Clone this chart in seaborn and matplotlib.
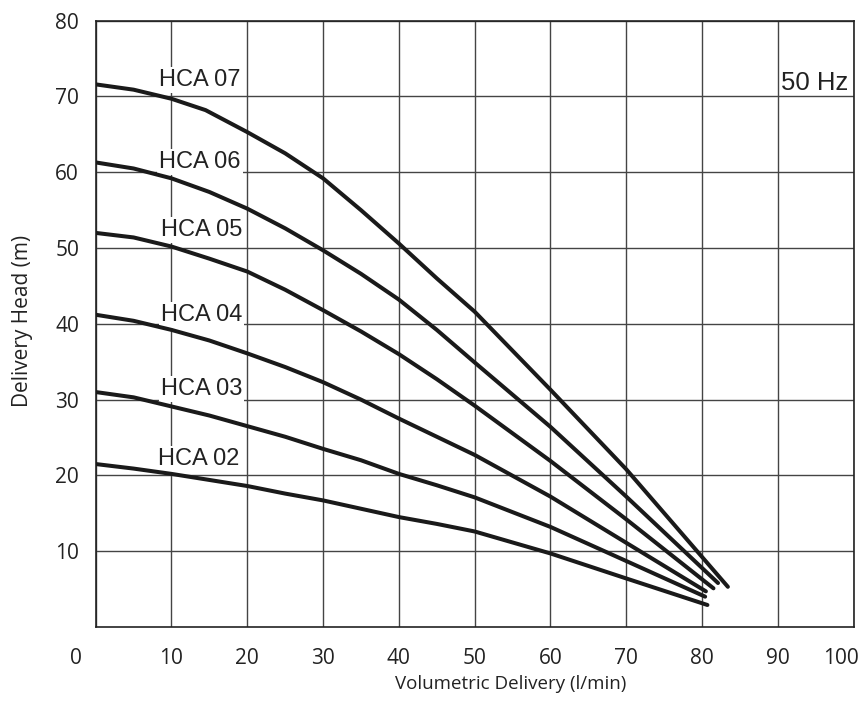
import matplotlib
matplotlib.use("Agg")
import matplotlib.pyplot as plt
import matplotlib.transforms as mtransforms
import pandas as pd
import seaborn as sns

# pump curves (flow l/min, head m)
hca07_q = [0, 5, 10, 14.5, 20, 25, 30, 35, 40, 45, 50, 60, 70, 83.4]
hca07_h = [71.6, 70.9, 69.7, 68.2, 65.3, 62.5, 59.2, 55.0, 50.6, 46.0, 41.6, 31.3, 20.8, 5.3]
hca06_q = [0, 5, 10, 15, 20, 25, 30, 35, 40, 45, 50, 60, 70, 82.1]
hca06_h = [61.3, 60.5, 59.2, 57.4, 55.2, 52.6, 49.7, 46.6, 43.2, 39.2, 34.9, 26.4, 17.2, 5.8]
hca05_q = [0, 5, 10, 15, 20, 25, 30, 35, 40, 45, 50, 60, 70, 81.5]
hca05_h = [52.0, 51.4, 50.2, 48.6, 46.9, 44.5, 41.8, 39.0, 36.0, 32.7, 29.2, 21.9, 14.2, 5.1]
hca04_q = [0, 5, 10, 15, 20, 25, 30, 35, 40, 45, 50, 60, 70, 80.5]
hca04_h = [41.2, 40.4, 39.2, 37.8, 36.1, 34.3, 32.3, 30.0, 27.5, 25.1, 22.7, 17.2, 11.1, 4.7]
hca03_q = [0, 5, 10, 15, 20, 25, 30, 35, 40, 45, 50, 60, 70, 80.4]
hca03_h = [31.0, 30.3, 29.1, 27.9, 26.5, 25.1, 23.5, 22.0, 20.2, 18.7, 17.1, 13.2, 8.7, 4.0]
hca02_q = [0, 5, 10, 15, 20, 25, 30, 35, 40, 45, 50, 60, 70, 80.7]
hca02_h = [21.5, 20.9, 20.2, 19.4, 18.6, 17.6, 16.7, 15.6, 14.5, 13.6, 12.6, 9.7, 6.4, 2.9]

models = ["HCA 07", "HCA 06", "HCA 05", "HCA 04", "HCA 03", "HCA 02"]
label_x = [8.4, 8.4, 8.6, 8.6, 8.6, 8.2]
label_y = [71.4, 60.6, 51.6, 40.4, 30.6, 21.4]

x_ticks = [0, 10, 20, 30, 40, 50, 60, 70, 80, 90, 100]
y_ticks = [10, 20, 30, 40, 50, 60, 70, 80]

curves = [(hca07_q, hca07_h), (hca06_q, hca06_h), (hca05_q, hca05_h),
          (hca04_q, hca04_h), (hca03_q, hca03_h), (hca02_q, hca02_h)]
frames = []
for name, (q, h) in zip(models, curves):
    frames.append(pd.DataFrame({"q": q, "h": h, "model": name}))
df = pd.concat(frames, ignore_index=True)

sns.set_style("white")
plt.rcParams["font.family"] = ["Open Sans", "DejaVu Sans"]

fig = plt.figure(figsize=(8.66, 7.07), dpi=100)
ax = fig.add_axes([0.1105, 0.1132, 0.8753, 0.8575])

sns.lineplot(data=df, x="q", y="h", hue="model", palette=["#1a1a1a"] * 6,
             sort=False, estimator=None, legend=False, linewidth=2.9,
             zorder=4, ax=ax)
for ln in ax.lines:
    ln.set_solid_joinstyle("round")

ax.set_xlim(0, 100)
ax.set_ylim(0, 80)
ax.set_xticks(x_ticks)
ax.set_yticks(y_ticks)
ax.grid(True, color="#444444", linewidth=1.0)
ax.set_axisbelow(True)
for s in ax.spines.values():
    s.set_color("#222222")
    s.set_linewidth(1.2)
ax.tick_params(axis="both", length=0, labelsize=15, colors="#222222")
ax.tick_params(axis="x", pad=15)
ax.tick_params(axis="y", pad=12)

# the 0 and the 100 of the x axis sit a little inward in the original
xlbls = ax.get_xticklabels()
xlbls[0].set_transform(xlbls[0].get_transform() +
                       mtransforms.ScaledTranslation(-0.2, 0, fig.dpi_scale_trans))
xlbls[-1].set_transform(xlbls[-1].get_transform() +
                        mtransforms.ScaledTranslation(-0.13, 0, fig.dpi_scale_trans))

ax.set_xlabel("Volumetric Delivery (l/min)", fontsize=13.5, color="#222222")
ax.set_ylabel("Delivery Head (m)", fontsize=15, color="#222222")
ax.xaxis.set_label_coords(0.547, -0.08)
ax.yaxis.set_label_coords(-0.083, 0.505)

for name, lx, ly in zip(models, label_x, label_y):
    ax.text(lx, ly, name, fontsize=17, family=["Liberation Sans", "DejaVu Sans"],
            color="#222222", ha="left", va="baseline", zorder=3,
            bbox=dict(facecolor="white", edgecolor="none", pad=1.5))

ax.text(99.3, 70.8, "50 Hz", fontsize=18.5, family=["Liberation Sans", "DejaVu Sans"],
        color="#222222", ha="right", va="baseline", zorder=3)

fig.savefig("out.png", dpi=100)
